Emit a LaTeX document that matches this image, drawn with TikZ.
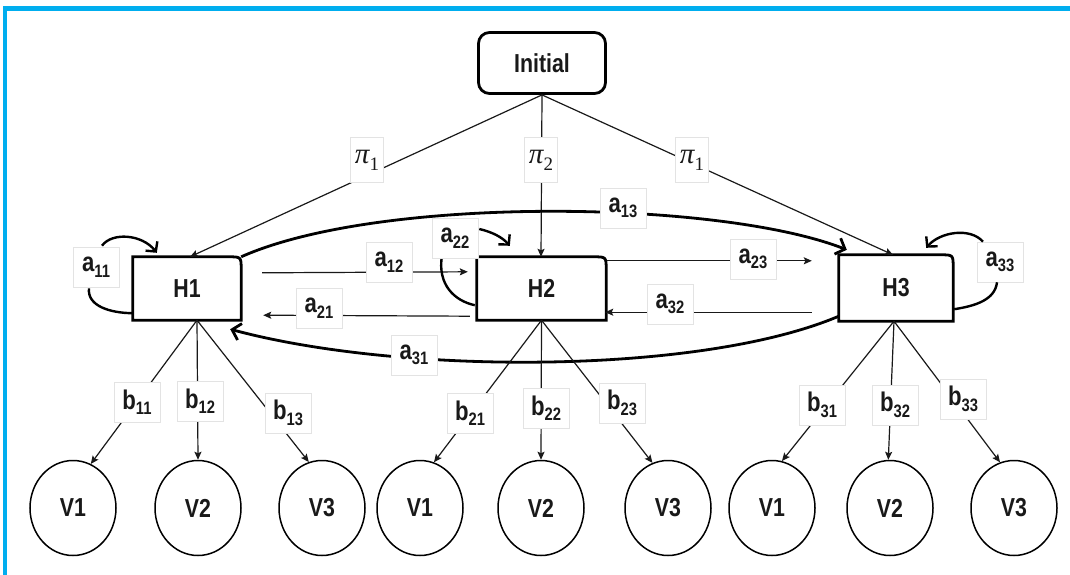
\documentclass[tikz,border=0pt]{standalone}
\usepackage{fontspec}
\setmainfont{Liberation Sans}[FakeStretch=0.82]
\newfontfamily\pifont{Liberation Serif}
\usetikzlibrary{arrows.meta,calc,shapes.geometric}
\definecolor{frameblue}{RGB}{0,174,239}
\definecolor{ink}{RGB}{25,25,25}
% subscripted transition / emission label
\newcommand\idx[2]{#1\raisebox{-5.5pt}{\fontsize{18}{18}\selectfont #2}}
% initial-probability label
\newcommand\pilab[1]{{\mdseries\pifont\fontsize{29}{29}\selectfont\itshape π}\raisebox{-7pt}{\mdseries\pifont\fontsize{19}{19}\selectfont #1}}
\begin{document}
\begin{tikzpicture}[x=1pt,y=-1pt,
  initbox/.style={draw, line width=2.8pt, rounded corners=11pt, minimum width=127pt,
    minimum height=61pt, inner sep=0pt, text=ink, font=\fontsize{26}{26}\selectfont\bfseries},
  hnode/.style={minimum height=63pt, inner sep=0pt, text=ink, font=\fontsize{26}{26}\selectfont\bfseries},
  hedge/.style={line width=2.8pt},
  vnode/.style={draw, ellipse, line width=1.5pt, minimum width=86pt, minimum height=95pt,
    inner sep=0pt, text=ink, font=\fontsize{26}{26}\selectfont\bfseries},
  lbl/.style={draw=gray!22, fill=white, line width=0.6pt, minimum width=46pt, minimum height=40pt,
    inner sep=0pt, text=ink, font=\fontsize{27}{27}\selectfont\bfseries},
  pilbl/.style={lbl, minimum width=33pt, minimum height=45pt},
  thinarrow/.style={draw=ink, line width=1.2pt, -{Stealth[length=8pt,width=7pt,inset=1.5pt]}},
  bigarrow/.style={line width=2.8pt, -{Straight Barb[length=8pt,width=17pt]}},
  looparrow/.style={line width=2.4pt, -{Straight Barb[length=7pt,width=15pt]}},
  loopline/.style={line width=2.4pt}]
\useasboundingbox (0,0) rectangle (1070,575);
\fill[white] (0,0) rectangle (1070,575);
% frame bands
\fill[frameblue] (3,6) rectangle (1070,11);
\fill[frameblue] (3,6) rectangle (7,575);

% nodes
\node[initbox] (init) at (542,63) {Initial};
\node[hnode, minimum width=108pt] (H1) at (187,288.5) {H1};
\node[hnode, minimum width=129pt] (H2) at (541.5,288.5) {H2};
\node[hnode, minimum width=114pt, minimum height=66pt] (H3) at (896,288) {H3};
\foreach \h in {H1,H2,H3}{
  \draw[hedge] (\h.south west) -- (\h.north west) -- ($(\h.north east)+(-13,0)$)
    .. controls (\h.north east) .. ($(\h.north east)+(0,13)$) -- (\h.south east) -- cycle;
}
\node[vnode] (V11) at (73,508) {V1};
\node[vnode] (V12) at (198,508) {V2};
\node[vnode] (V13) at (322,508) {V3};
\node[vnode] (V21) at (420,508) {V1};
\node[vnode] (V22) at (541,508) {V2};
\node[vnode] (V23) at (668,508) {V3};
\node[vnode] (V31) at (772,508) {V1};
\node[vnode] (V32) at (890,508) {V2};
\node[vnode] (V33) at (1014,508) {V3};

% initial probabilities
\draw[thinarrow] (init.south) -- ([xshift=3pt]H1.north);
\draw[thinarrow] (init.south) -- ([xshift=-0.5pt]H2.north);
\draw[thinarrow] (init.south) -- ([xshift=-3pt]H3.north);

% transitions between neighbours
\draw[thinarrow] ($(H1.north east)+(21,16)$) -- ($(H2.north west)+(-9,15)$);
\draw[thinarrow] ($(H2.south west)+(-7,-4)$) -- ($(H1.south east)+(22,-5)$);
\draw[thinarrow] ($(H2.north east)+(1,4)$) -- ($(H3.north west)+(-27,6)$);
\draw[thinarrow] ($(H3.south west)+(-27,-9)$) -- ($(H2.south east)+(-1,-8)$);

% long transitions
\draw[bigarrow] (H1.north east) .. controls (380,195) and (720,200) .. ($(H3.north west)+(8,-5)$);
\draw[bigarrow] ($(H3.south west)+(0,-5)$) .. controls (700,375) and (400,375) .. ($(H1.south east)+(-11,9)$);

% self transitions
\node[lbl] (a11) at (96,267) {\idx{a}{11}};
\node[lbl, draw=none] (a22) at (455,238) {\idx{a}{22}};
\node[lbl] (a33) at (1000,262) {\idx{a}{33}};
\draw[looparrow] ($(a11.north)+(6,-1)$) .. controls (112,232) and (142,234) .. ($(H1.north west)+(24,-4)$);
\draw[loopline] ($(a11.south)+(-7,1)$) .. controls (87,306) and (110,313) .. ($(H1.south west)+(0,-7)$);
\draw[looparrow] ($(a22.east)+(1,-9)$) .. controls (492,232) and (502,237) .. ($(H2.north west)+(33,-11)$);
\draw[loopline] ($(a22.south)+(-13,-3)$) .. controls (437,285) and (455,301) .. ($(H2.south west)+(-2,-15)$);
\draw[looparrow] ($(a33.north)+(-17,0)$) .. controls (970,227) and (940,232) .. ($(H3.north east)+(-27,-7)$);
\draw[loopline] ($(a33.south)+(-3,0)$) .. controls (995,300) and (975,306) .. ($(H3.south east)+(1,-12)$);

% emissions
\draw[thinarrow] ([xshift=10pt]H1.south) -- (V11.68);
\draw[thinarrow] ([xshift=10pt]H1.south) -- (V12.90);
\draw[thinarrow] ([xshift=10pt]H1.south) -- (V13.106);
\draw[thinarrow] (H2.south) -- (V21.73);
\draw[thinarrow] (H2.south) -- (V22.90);
\draw[thinarrow] (H2.south) -- (V23.109);
\draw[thinarrow] ([xshift=-2pt]H3.south) -- (V31.78);
\draw[thinarrow] ([xshift=-2pt]H3.south) -- (V32.92);
\draw[thinarrow] ([xshift=-2pt]H3.south) -- (V33.107);

% labels
\node[pilbl] (p1) at (367,160) {\pilab{1}};
\node[pilbl] (p2) at (541,160) {\pilab{2}};
\node[pilbl] (p3) at (692,160) {\pilab{1}};
\node[lbl] (a12) at (389,262) {\idx{a}{12}};
\node[lbl] (a21) at (319,308) {\idx{a}{21}};
\node[lbl] (a13) at (623,208) {\idx{a}{13}};
\node[lbl] (a23) at (753,259) {\idx{a}{23}};
\node[lbl] (a32) at (670,304) {\idx{a}{32}};
\node[lbl] (a31) at (414,355) {\idx{a}{31}};
\node[lbl] at (a22) {\idx{a}{22}};
\node[lbl] (b11) at (137,402) {\idx{b}{11}};
\node[lbl] (b12) at (200,401) {\idx{b}{12}};
\node[lbl] (b13) at (288,413) {\idx{b}{13}};
\node[lbl] (b21) at (470,413) {\idx{b}{21}};
\node[lbl] (b22) at (546,408) {\idx{b}{22}};
\node[lbl] (b23) at (622,403) {\idx{b}{23}};
\node[lbl] (b31) at (822,405) {\idx{b}{31}};
\node[lbl] (b32) at (895,405) {\idx{b}{32}};
\node[lbl] (b33) at (963,399) {\idx{b}{33}};
\end{tikzpicture}
\end{document}
